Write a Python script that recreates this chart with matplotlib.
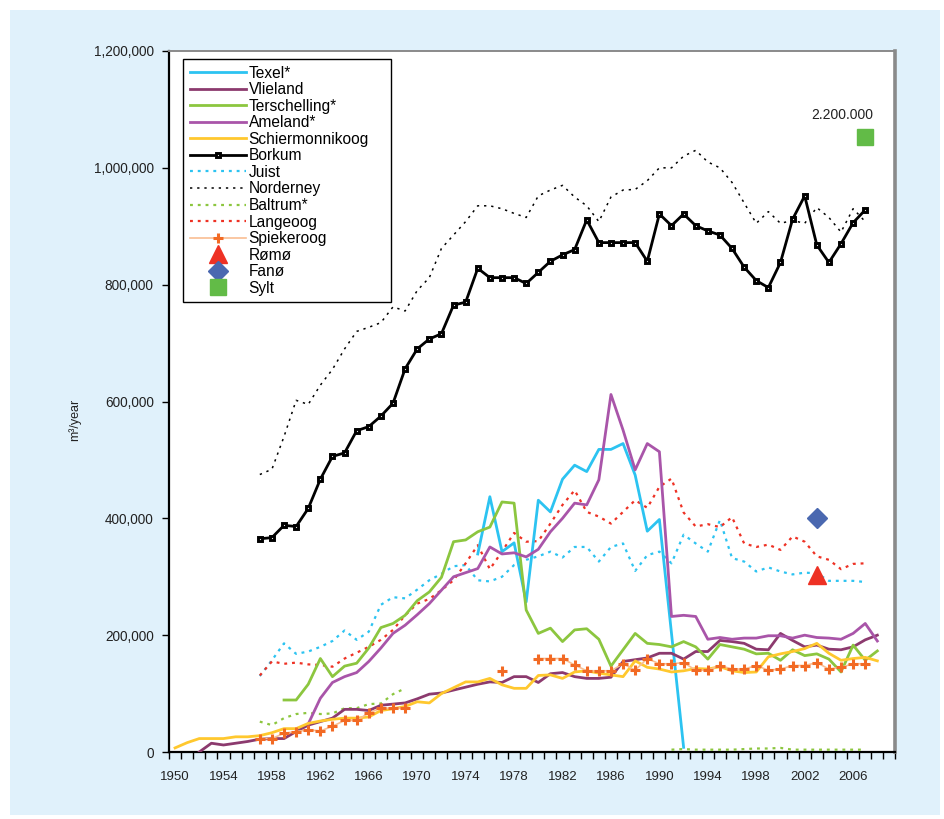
import numpy as np
import matplotlib
matplotlib.use("Agg")
import matplotlib.pyplot as plt
from matplotlib.patches import Rectangle
from matplotlib.ticker import FuncFormatter, MultipleLocator, FixedLocator

plt.rcParams['font.family'] = ['Liberation Sans', 'DejaVu Sans']

# ---------------- data (thousand m3/year) ----------------
texel_years = list(range(1975, 1993))
texel = [339, 437, 343, 358, 257, 431, 411, 467, 491, 480, 518, 518, 528, 474, 378, 398, 203, 8]

vlieland_years = list(range(1952, 2009))
vlieland = [0, 15, 12, 15, 18, 22, 23, 23, 35, 46, 52, 58, 73, 73, 71, 80, 82, 84, 91, 99,
            101, 106, 111, 116, 120, 119, 129, 129, 119, 134, 136, 129, 126, 126, 128, 155,
            158, 161, 169, 169, 159, 172, 172, 191, 189, 186, 176, 175, 203, 191, 180, 183,
            176, 175, 180, 192, 200]

terschelling_years = list(range(1959, 2009))
terschelling = [89, 89, 116, 160, 129, 147, 152, 178, 213, 220, 234, 259, 274, 299, 360, 363,
                377, 385, 428, 426, 243, 203, 212, 189, 209, 211, 193, 147, 175, 203, 186, 184,
                180, 189, 180, 159, 184, 180, 176, 168, 169, 157, 175, 165, 168, 159, 137, 183,
                157, 173]

ameland_years = list(range(1961, 2009))
ameland = [48, 92, 119, 129, 136, 155, 178, 203, 217, 235, 254, 277, 300, 307, 314, 351, 339,
           341, 334, 347, 377, 400, 426, 423, 466, 612, 551, 483, 528, 514, 232, 234, 232, 193,
           196, 193, 195, 195, 199, 199, 195, 200, 196, 195, 193, 203, 220, 190]

schier_years = list(range(1950, 2009))
schier = [7, 16, 23, 23, 23, 26, 26, 28, 33, 40, 40, 49, 53, 56, 58, 58, 60, 71, 74, 78, 86, 84,
          100, 110, 120, 120, 126, 115, 109, 109, 131, 132, 126, 137, 139, 135, 132, 129, 156,
          145, 142, 137, 139, 143, 142, 146, 139, 136, 137, 163, 168, 172, 177, 186, 169, 157,
          160, 162, 156]

borkum_years = list(range(1957, 2008))
borkum = [365, 367, 388, 386, 417, 467, 506, 512, 550, 557, 575, 597, 656, 690, 707, 716, 765,
          770, 828, 812, 812, 812, 802, 821, 840, 851, 860, 911, 872, 872, 872, 872, 840, 921,
          901, 921, 901, 892, 885, 862, 830, 807, 795, 838, 912, 952, 868, 838, 870, 906, 928]

juist_years = list(range(1957, 2008))
juist = [130, 157, 186, 168, 172, 180, 190, 208, 192, 206, 252, 265, 263, 278, 294, 305, 318,
         320, 294, 292, 300, 320, 329, 335, 343, 333, 351, 351, 326, 351, 357, 310, 337, 343,
         323, 372, 357, 343, 397, 332, 326, 309, 316, 309, 304, 307, 306, 293, 293, 293, 291]

norderney_years = list(range(1957, 2008))
norderney = [475, 484, 540, 602, 595, 628, 655, 690, 720, 727, 735, 762, 755, 790, 812, 862,
             885, 908, 935, 935, 930, 922, 915, 952, 962, 970, 950, 935, 908, 950, 962, 963,
             978, 1000, 1000, 1020, 1030, 1010, 1000, 975, 940, 905, 925, 905, 910, 905, 932,
             915, 890, 930, 908]

baltrum_years = list(range(1957, 2008))
baltrum = [52, 46, 58, 65, 67, 65, 66, 75, 75, 82, 83, 99, 109,
           None, None, None, None, None, None, None, None, None, None, None, None, None,
           None, None, None, None, None, None, None, None,
           4, 5, 4, 4, 4, 4, 5, 6, 6, 7, 4, 4, 4, 4, 4, 4, 4]

langeoog_years = list(range(1957, 2008))
langeoog = [131, 155, 151, 153, 150, 149, 146, 160, 170, 180, 192, 209, 234, 254, 262, 277,
            294, 323, 354, 313, 343, 375, 360, 361, 391, 423, 448, 411, 403, 391, 411, 431,
            418, 454, 468, 410, 386, 390, 385, 402, 357, 351, 355, 346, 369, 360, 335, 329,
            313, 322, 323]

spiek_years = list(range(1957, 2008))
spiek = [23, 23, 32, 35, 38, 36, 44, 54, 54, 67, 75, 75, 75,
         None, None, None, None, None, None, None, 139, None, None,
         160, 160, 160, 149, 139, 139, 139, 151, 140, 160, 151, 151, 153, 140, 140, 148, 142,
         142, 148, 140, 142, 148, 148, 153, 142, 145, 151, 151]

romo_year, romo = 2003, 303
fano_year, fano = 2003, 400
sylt_year, sylt = 2007, 1053
sylt_label = "2.200.000"

xtick_labels = [str(y) for y in range(1950, 2007, 4)]


def arr(v):
    return np.array([np.nan if a is None else a * 1000.0 for a in v], dtype=float)

# ---------------- figure ----------------
W, H, DPI = 945, 819, 100
fig = plt.figure(figsize=(W / DPI, H / DPI), dpi=DPI, facecolor='white')
fig.patches.append(Rectangle((10 / W, 4 / H), 930 / W, 805 / H, transform=fig.transFigure,
                             facecolor='#E0F1FB', edgecolor='none', zorder=-10))

ax = fig.add_axes([169 / W, 1 - 752 / H, 726.5 / W, 701 / H])
ax.set_facecolor('white')

c_texel = '#2CC3F1'
c_vlie = '#8C3A6E'
c_ters = '#8CC63F'
c_ame = '#A955A9'
c_schier = '#FFC82E'
c_lange = '#EE3124'
c_spiek_l = '#F9BE92'
c_spiek_m = '#F26A24'

lw = 2.0
dot = (0, (1.3, 2.2))

ax.plot(texel_years, arr(texel), color=c_texel, lw=lw, label='Texel*', zorder=5)
ax.plot(vlieland_years, arr(vlieland), color=c_vlie, lw=lw, label='Vlieland', zorder=5)
ax.plot(terschelling_years, arr(terschelling), color=c_ters, lw=lw, label='Terschelling*', zorder=5)
ax.plot(ameland_years, arr(ameland), color=c_ame, lw=lw, label='Ameland*', zorder=5)
ax.plot(schier_years, arr(schier), color=c_schier, lw=lw, label='Schiermonnikoog', zorder=5)
ax.plot(borkum_years, arr(borkum), color='black', lw=lw, marker='s', ms=3.4,
        mfc='#dddddd', mec='black', mew=2.1, label='Borkum', zorder=6)
ax.plot(juist_years, arr(juist), color=c_texel, lw=1.6, ls=dot, label='Juist', zorder=4)
ax.plot(norderney_years, arr(norderney), color='black', lw=1.1, ls=(0, (1.5, 3.2)),
        label='Norderney', zorder=4)
ax.plot(baltrum_years, arr(baltrum), color=c_ters, lw=1.6, ls=dot, label='Baltrum*', zorder=4)
ax.plot(langeoog_years, arr(langeoog), color=c_lange, lw=1.6, ls=dot, label='Langeoog', zorder=4)
ax.plot(spiek_years, arr(spiek), color=c_spiek_l, lw=1.2, marker='+', ms=7, mec=c_spiek_m,
        mew=2.2, label='Spiekeroog', zorder=6)
ax.plot([romo_year], [romo * 1000], ls='none', marker='^', ms=13, color='#EE3124',
        label='Rømø', zorder=7)
ax.plot([fano_year], [fano * 1000], ls='none', marker='D', ms=10, color='#4A68B0',
        label='Fanø', zorder=7)
ax.plot([sylt_year], [sylt * 1000], ls='none', marker='s', ms=11, color='#62BB47',
        label='Sylt', zorder=7)
ax.annotate(sylt_label, xy=(sylt_year, sylt * 1000), xytext=(-23, 22),
            textcoords='offset pixels', ha='center', va='center', fontsize=10,
            color='#222222')

# ---------------- axes ----------------
ax.set_xlim(1949.5, 2009.5)
ax.set_ylim(0, 1200000)

ax.xaxis.set_major_locator(FixedLocator(list(range(1950, 2007, 4))))
ax.set_xticklabels(xtick_labels)
ax.xaxis.set_minor_locator(FixedLocator(list(np.arange(1949.5, 2010, 1.0))))
ax.tick_params(axis='x', which='major', length=0, pad=14, labelsize=9.5, colors='#222222')
ax.tick_params(axis='x', which='minor', length=5, width=1.0, direction='out', color='black')

ax.yaxis.set_major_locator(MultipleLocator(200000))
ax.yaxis.set_major_formatter(FuncFormatter(lambda v, p: f"{int(v):,}"))
ax.tick_params(axis='y', which='major', length=5, width=1.0, direction='out',
               labelsize=9.8, colors='black', labelcolor='#222222', pad=6)

ax.set_ylabel('m³/year', fontsize=9, color='#222222')
ax.yaxis.set_label_coords(-0.121, 0.474)

for s in ['left', 'bottom']:
    ax.spines[s].set_color('black')
    ax.spines[s].set_linewidth(1.6)
ax.spines['top'].set_color('#8a8a8a')
ax.spines['top'].set_linewidth(1.4)
ax.spines['right'].set_color('#8a8a8a')
ax.spines['right'].set_linewidth(2.6)

leg_w = 208 / 726.5
leg = ax.legend(loc='upper left', bbox_to_anchor=(0.0193, 0.0, leg_w, 0.9886),
                mode='expand', borderaxespad=0,
                fontsize=11.2, frameon=True, fancybox=False, edgecolor='black',
                handlelength=3.6, handletextpad=0.2, labelspacing=0.1,
                borderpad=0.42, framealpha=1)
leg.get_frame().set_linewidth(1.0)

fig.savefig('out.png', dpi=DPI, facecolor='white')
